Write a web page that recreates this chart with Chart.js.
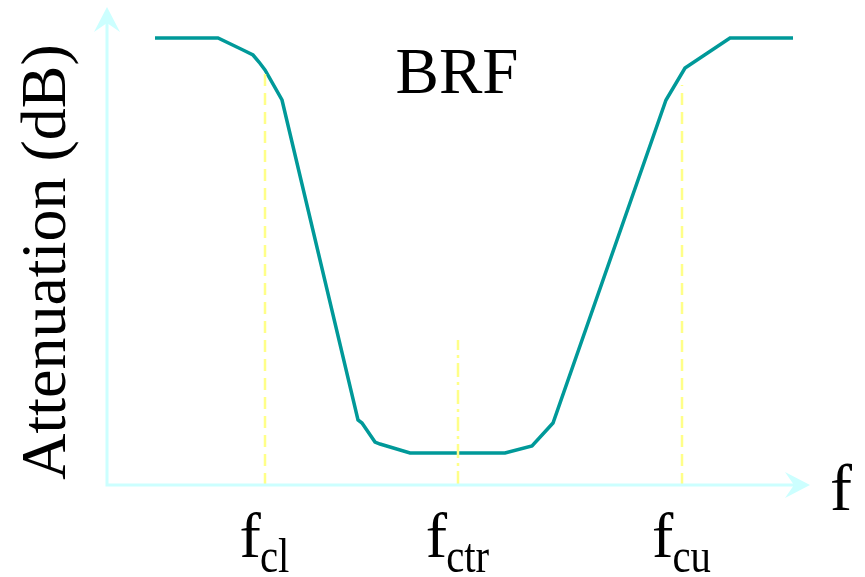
<!DOCTYPE html>
<html>
<head>
<meta charset="utf-8">
<script src="https://cdn.jsdelivr.net/npm/chart.js@4.4.1/dist/chart.umd.min.js"></script>
<style>
  html, body { margin: 0; padding: 0; background: #fff; }
  #wrap { width: 865px; height: 577px; }
</style>
</head>
<body>
<div id="wrap"><canvas id="brfChart"></canvas></div>
<script>
// Band-reject filter response (arbitrary units)
var freq = [4.8, 11.1, 13.6, 14.6, 15.2, 15.8, 17.5, 25.1, 25.5, 26.8, 27.3, 30.3, 39.8, 42.5, 44.6, 55.9, 57.8, 62.3, 68.6];
var atten = [44.7, 44.7, 43.5, 43.0, 42.3, 41.5, 38.5, 6.5, 6.2, 4.3, 4.1, 3.2, 3.2, 3.9, 6.2, 38.5, 41.7, 44.7, 44.7];

// cutoff / centre markers
var markerFreq = [15.8, 35.1, 57.5];
var markerTop = [41.5, 14.5, 40.0];
var markerSub = ["cl", "ctr", "cu"];

var SERIF = '"Liberation Serif", "Times New Roman", serif';

function markerSet(i, dash) {
    return {
        data: [{ x: markerFreq[i], y: 0 }, { x: markerFreq[i], y: markerTop[i] }],
        borderColor: "#ffff88",
        borderWidth: 2.5,
        borderDash: dash,
        pointRadius: 0,
        fill: false
    };
}

var axesAndText = {
    id: "axesAndText",
    afterDatasetsDraw: function (chart) {
        var ctx = chart.ctx;
        var xs = chart.scales.x, ys = chart.scales.y;
        var x0 = xs.getPixelForValue(0), y0 = ys.getPixelForValue(0);
        var yTip = ys.getPixelForValue(47.8), xTip = xs.getPixelForValue(70.3);

        ctx.save();
        // axes
        ctx.strokeStyle = "#ccffff";
        ctx.fillStyle = "#ccffff";
        ctx.lineWidth = 3;
        ctx.beginPath();
        ctx.moveTo(x0, yTip + 12);
        ctx.lineTo(x0, y0);
        ctx.lineTo(xTip - 12, y0);
        ctx.stroke();
        // y arrow
        ctx.beginPath();
        ctx.moveTo(x0, yTip);
        ctx.lineTo(x0 + 13, yTip + 25);
        ctx.lineTo(x0, yTip + 16);
        ctx.lineTo(x0 - 13, yTip + 25);
        ctx.closePath();
        ctx.fill();
        // x arrow
        ctx.beginPath();
        ctx.moveTo(xTip, y0);
        ctx.lineTo(xTip - 25, y0 + 13);
        ctx.lineTo(xTip - 16, y0);
        ctx.lineTo(xTip - 25, y0 - 13);
        ctx.closePath();
        ctx.fill();

        ctx.fillStyle = "#000";
        ctx.textBaseline = "alphabetic";

        // title
        ctx.font = "65px " + SERIF;
        ctx.textAlign = "center";
        ctx.fillText("BRF", xs.getPixelForValue(35), 93);

        // x axis label
        ctx.font = "66px " + SERIF;
        ctx.fillText("f", xs.getPixelForValue(73.4), y0 + 25);

        // y axis label
        ctx.save();
        ctx.translate(65, 262);
        ctx.rotate(-Math.PI / 2);
        ctx.font = "64px " + SERIF;
        ctx.textAlign = "center";
        ctx.fillText("Attenuation (dB)", 0, 0);
        ctx.restore();

        // tick labels f with subscript
        ctx.textAlign = "left";
        for (var i = 0; i < markerFreq.length; i++) {
            ctx.font = "64px " + SERIF;
            var fw = ctx.measureText("f").width;
            ctx.font = "48px " + SERIF;
            var sw = ctx.measureText(markerSub[i]).width * 0.85;
            var left = xs.getPixelForValue(markerFreq[i]) - (fw + sw) / 2;
            ctx.font = "64px " + SERIF;
            ctx.fillText("f", left, y0 + 72);
            ctx.save();
            ctx.translate(left + fw - 1, y0 + 87);
            ctx.scale(0.85, 1);
            ctx.font = "48px " + SERIF;
            ctx.fillText(markerSub[i], 0, 0);
            ctx.restore();
        }
        ctx.restore();
    }
};

document.addEventListener("DOMContentLoaded", function () {
    var pts = freq.map(function (f, i) { return { x: f, y: atten[i] }; });
    var ctx = document.getElementById("brfChart").getContext("2d");
    new Chart(ctx, {
        type: "line",
        data: {
            datasets: [
                markerSet(0, [12, 7]),
                markerSet(1, [14, 5, 3, 5]),
                markerSet(2, [12, 7]),
                {
                    label: "Attenuation",
                    data: pts,
                    borderColor: "#009999",
                    borderWidth: 3.5,
                    pointRadius: 0,
                    tension: 0,
                    fill: false
                }
            ]
        },
        options: {
            responsive: true,
            maintainAspectRatio: false,
            animation: false,
            layout: { padding: { left: 107, right: 48, top: 5, bottom: 92 } },
            plugins: { legend: { display: false }, tooltip: { enabled: false } },
            scales: {
                x: { type: "linear", min: 0, max: 71, display: false },
                y: { min: 0, max: 48, display: false }
            }
        },
        plugins: [axesAndText]
    });
});
</script>
</body>
</html>
